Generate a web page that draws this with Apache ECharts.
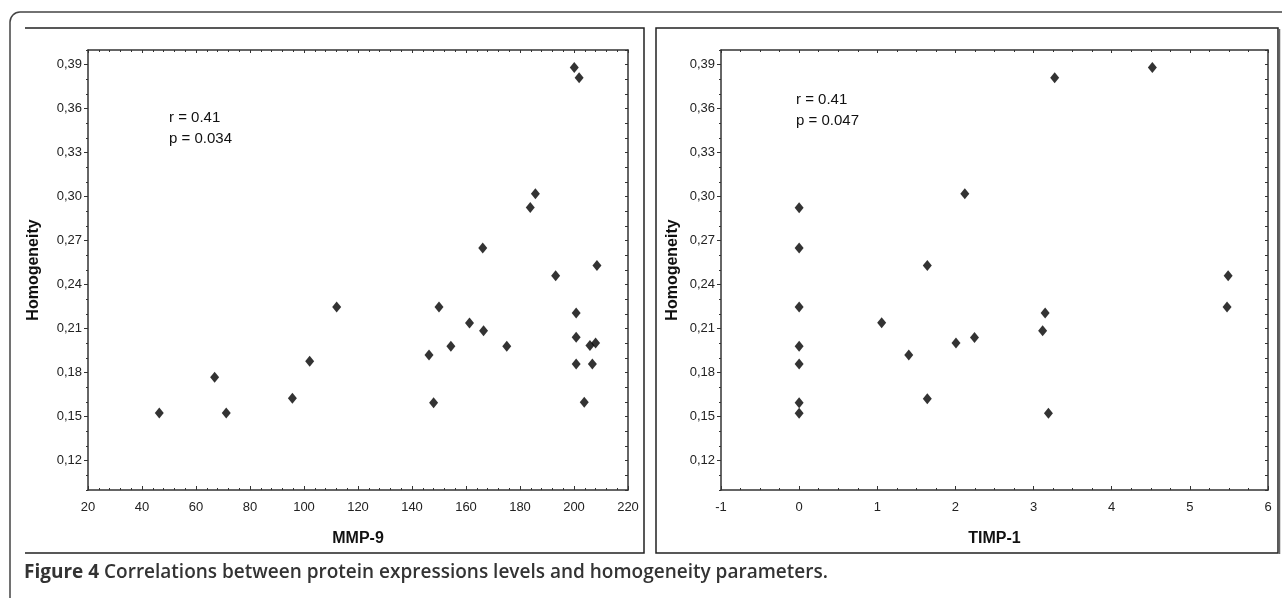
<!DOCTYPE html>
<html>
<head>
    <meta charset="utf-8" />
    <title>Figure 4</title>
    <script src="https://cdn.jsdelivr.net/npm/echarts@6.0.0/dist/echarts.min.js"></script>
    <style>
        html, body { margin: 0; padding: 0; background: #fff; }
        #main { width: 1282px; height: 598px; }
    </style>
</head>
<body>
    <div id="main"></div>
    <script>
        // values
        var mmp9 = [46.4, 66.9, 71.2, 95.7, 102.1, 112.1, 146.3, 148.0, 150.0, 154.4, 161.3, 166.5, 175.1,
            200.8, 200.8, 200.8, 203.8, 205.9, 206.8, 208.0, 200.1, 201.9, 185.7, 183.8, 166.2, 193.2, 208.5];
        var homogeneityA = [0.1525, 0.1768, 0.1525, 0.1625, 0.1877, 0.2248, 0.192, 0.1595, 0.2248, 0.198, 0.2139, 0.2086, 0.198,
            0.2207, 0.2041, 0.1859, 0.1598, 0.1986, 0.1859, 0.2002, 0.388, 0.381, 0.302, 0.2926, 0.265, 0.246, 0.253];

        var timp1 = [0, 0, 0, 0, 0, 1.056, 1.403, 1.64, 2.007, 2.244, 3.116, 3.148, 3.19, 5.476,
            0, 0, 2.12, 1.64, 3.27, 4.52, 5.49];
        var homogeneityB = [0.2248, 0.198, 0.1859, 0.1595, 0.1523, 0.2141, 0.192, 0.1623, 0.2002, 0.2039, 0.2086, 0.2207, 0.1523, 0.2248,
            0.2924, 0.265, 0.302, 0.253, 0.381, 0.388, 0.246];

        var yTicks = [0.12, 0.15, 0.18, 0.21, 0.24, 0.27, 0.30, 0.33, 0.36, 0.39];
        var statsA = ['r = 0.41', 'p = 0.034'];
        var statsB = ['r = 0.41', 'p = 0.047'];

        function pairs(xs, ys) {
            return xs.map(function (x, i) { return [x, ys[i]]; });
        }

        var lineStyle = { color: '#333', width: 1.5 };
        var tickColor = '#333';
        var labelFont = { color: '#222', fontSize: 13, fontFamily: 'Liberation Sans, Arial, sans-serif' };
        var nameFont = { color: '#111', fontSize: 16, fontWeight: 'bold', fontFamily: 'Liberation Sans, Arial, sans-serif' };

        function bottomAxis(grid, min, max, interval, split, name) {
            return {
                type: 'value', gridIndex: grid, position: 'bottom',
                min: min, max: max, interval: interval,
                name: name, nameLocation: 'middle', nameGap: 41, nameTextStyle: nameFont,
                axisLine: { onZero: false, lineStyle: lineStyle },
                axisTick: { inside: true, length: 4, lineStyle: { color: tickColor } },
                minorTick: { show: true, splitNumber: split, length: 2, lineStyle: { color: tickColor } },
                axisLabel: Object.assign({ margin: 11 }, labelFont),
                splitLine: { show: false }
            };
        }
        function topAxis(grid, min, max, interval, split) {
            return {
                type: 'value', gridIndex: grid, position: 'top',
                min: min, max: max, interval: interval,
                axisLine: { onZero: false, lineStyle: lineStyle },
                axisTick: { inside: true, length: 3, lineStyle: { color: tickColor } },
                minorTick: { show: true, splitNumber: split, length: 2, lineStyle: { color: tickColor } },
                axisLabel: { show: false },
                splitLine: { show: false }
            };
        }
        function leftAxis(grid, gap) {
            return {
                type: 'value', gridIndex: grid, position: 'left', min: 0.1, max: 0.4,
                name: 'Homogeneity', nameLocation: 'middle', nameGap: gap, nameTextStyle: nameFont,
                axisLine: { onZero: false, lineStyle: lineStyle },
                axisTick: { length: 4, customValues: yTicks, lineStyle: { color: tickColor } },
                axisLabel: Object.assign({
                    margin: 6, customValues: yTicks,
                    formatter: function (v) { return v.toFixed(2).replace('.', ','); }
                }, labelFont),
                splitLine: { show: false }
            };
        }
        function leftMinorAxis(grid) {
            return {
                type: 'value', gridIndex: grid, position: 'left', min: 0.1, max: 0.4, interval: 0.01,
                axisLine: { show: false, onZero: false },
                axisTick: { length: 2, lineStyle: { color: tickColor } },
                axisLabel: { show: false },
                splitLine: { show: false }
            };
        }
        function rightAxis(grid) {
            return {
                type: 'value', gridIndex: grid, position: 'right', min: 0.1, max: 0.4, interval: 0.01,
                axisLine: { onZero: false, lineStyle: lineStyle },
                axisTick: { inside: true, length: 3, lineStyle: { color: tickColor } },
                axisLabel: { show: false },
                splitLine: { show: false }
            };
        }

        var statFont = { fill: '#111', fontSize: 15, fontFamily: 'Liberation Sans, Arial, sans-serif', lineHeight: 21 };

        var chart = echarts.init(document.getElementById('main'), null, { renderer: 'canvas' });
        chart.setOption({
            backgroundColor: '#fff',
            animation: false,
            grid: [
                { left: 88, right: 654, top: 50, bottom: 108 },
                { left: 721, right: 14, top: 50, bottom: 108 }
            ],
            xAxis: [
                bottomAxis(0, 20, 220, 20, 5, 'MMP-9'),
                topAxis(0, 20, 220, 20, 5),
                bottomAxis(1, -1, 6, 1, 4, 'TIMP-1'),
                topAxis(1, -1, 6, 1, 4)
            ],
            yAxis: [
                leftAxis(0, 46),
                leftMinorAxis(0),
                rightAxis(0),
                leftAxis(1, 40),
                leftMinorAxis(1),
                rightAxis(1)
            ],
            series: [
                {
                    type: 'scatter', xAxisIndex: 0, yAxisIndex: 0,
                    symbol: 'diamond', symbolSize: [9, 11],
                    itemStyle: { color: '#000' },
                    data: pairs(mmp9, homogeneityA)
                },
                {
                    type: 'scatter', xAxisIndex: 2, yAxisIndex: 3,
                    symbol: 'diamond', symbolSize: [9, 11],
                    itemStyle: { color: '#000' },
                    data: pairs(timp1, homogeneityB)
                }
            ],
            graphic: [
                // outer rounded frame
                { type: 'rect', shape: { x: 10, y: 12, width: 1290, height: 600, r: 10 },
                  style: { fill: 'none', stroke: '#444', lineWidth: 1.5 }, silent: true },
                // left panel
                { type: 'polyline', shape: { points: [[25, 28], [644, 28], [644, 553], [25, 553]] },
                  style: { fill: 'none', stroke: '#222', lineWidth: 1.5 }, silent: true },
                // right panel
                { type: 'rect', shape: { x: 656, y: 28, width: 622, height: 525 },
                  style: { fill: 'none', stroke: '#222', lineWidth: 1.5 }, silent: true },
                { type: 'line', shape: { x1: 1279.5, y1: 29, x2: 1279.5, y2: 554 },
                  style: { stroke: '#666', lineWidth: 1.5 }, silent: true },
                { type: 'text', x: 169, y: 107, silent: true,
                  style: Object.assign({ text: statsA.join('\n') }, statFont) },
                { type: 'text', x: 796, y: 89, silent: true,
                  style: Object.assign({ text: statsB.join('\n') }, statFont) },
                { type: 'text', x: 24, y: 573, silent: true,
                  style: {
                      text: '{b|Figure 4} Correlations between protein expressions levels and homogeneity parameters.',
                      verticalAlign: 'middle',
                      fill: '#333', fontSize: 19, fontWeight: 600, fontFamily: 'Open Sans, Noto Sans, sans-serif',
                      rich: { b: { fontSize: 19, fontWeight: 'bold', fill: '#333', fontFamily: 'Open Sans, Noto Sans, sans-serif' } }
                  } }
            ]
        });
    </script>
</body>
</html>
